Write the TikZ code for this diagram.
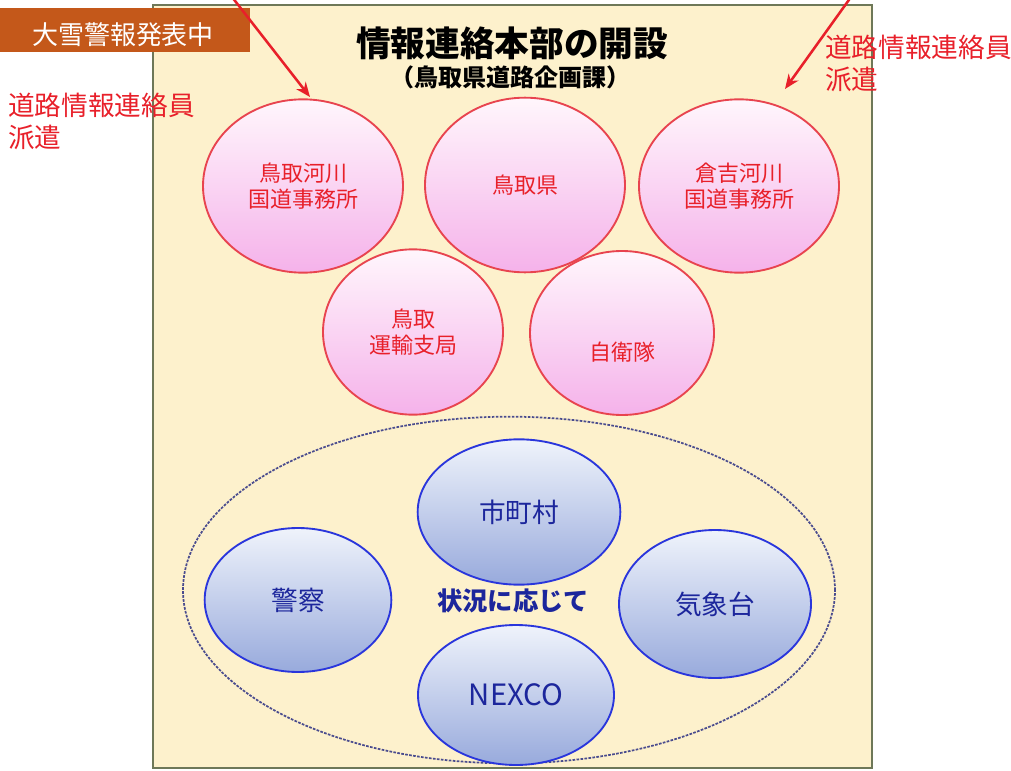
\documentclass[tikz,border=0pt]{standalone}
\usepackage{fontspec}
\setmainfont{Noto Sans CJK JP}
\usetikzlibrary{arrows.meta,shapes.geometric}

\definecolor{boxfill}{HTML}{FDF1CC}
\definecolor{boxline}{HTML}{6E7858}
\definecolor{warnfill}{HTML}{C4581A}
\definecolor{redtext}{HTML}{E8202A}
\definecolor{pinkline}{HTML}{E8444F}
\definecolor{pinktop}{HTML}{FFF6FC}
\definecolor{pinkbot}{HTML}{F5B2EA}
\definecolor{blueline}{HTML}{2A36DC}
\definecolor{bluetop}{HTML}{EFF3FB}
\definecolor{bluebot}{HTML}{98AADC}
\definecolor{bluetext}{HTML}{1C269C}
\definecolor{dashline}{HTML}{4A4C8E}

\begin{document}
\begin{tikzpicture}[x=0.75pt,y=-0.75pt,
    pinkcirc/.style = {ellipse,draw=pinkline,line width=1.4pt,top color=pinktop,bottom color=pinkbot,text=redtext,align=center,inner sep=0pt,font=\fontsize{16.5}{20}\selectfont},
    bluecirc/.style = {ellipse,draw=blueline,line width=1.4pt,top color=bluetop,bottom color=bluebot,text=bluetext,inner sep=0pt,font=\fontsize{20}{22}\selectfont},
    sendnote/.style = {text=redtext,align=left,inner sep=0pt,font=\fontsize{20}{24}\selectfont},
    sendarrow/.style = {-{Stealth[length=11pt,width=9pt]},draw=redtext,line width=1.9pt}]
\useasboundingbox (0,0) rectangle (1011,771);

% headquarters box
\draw[fill=boxfill,draw=boxline,line width=1pt] (153,5) rectangle (872,768);
\fill[warnfill] (0,8) rectangle (250,52);
\node[text=white,inner sep=0pt,anchor=base,font=\fontsize{19.5}{20}\selectfont] (warn) at (123,45) {大雪警報発表中};
\node[inner sep=0pt,anchor=base,font=\fontsize{26}{28}\selectfont\bfseries] (title) at (512,56) {情報連絡本部の開設};
\node[inner sep=0pt,anchor=base,font=\fontsize{18}{20}\selectfont\bfseries] (subtitle) at (510,86) {（鳥取県道路企画課）};

% liaison staff
\node[sendnote,anchor=base west] (lnote) at (8,147) {道路情報連絡員\\派遣};
\node[sendnote,anchor=base west] (rnote) at (825,89) {道路情報連絡員\\派遣};

% member organisations
\node[pinkcirc,minimum width=150pt,minimum height=130pt] (tottorigawa) at (303,186) {鳥取河川\\国道事務所};
\node[pinkcirc,minimum width=150pt,minimum height=131pt] (tottoriken) at (525,185) {鳥取県};
\node[pinkcirc,minimum width=150pt,minimum height=130pt] (kurayoshi) at (739,186) {倉吉河川\\国道事務所};
\node[pinkcirc,minimum width=135pt,minimum height=124pt] (unyu) at (413,332) {鳥取\\運輸支局};
\node[pinkcirc,minimum width=138pt,minimum height=123pt] (jieitai) at (622,333) {\raisebox{-42pt}{自衛隊}};

\coordinate (lfrom) at (232,-3);
\coordinate (lto) at (310,97);
\coordinate (rfrom) at (851,-3);
\coordinate (rto) at (785,89);
\draw[sendarrow] (lfrom) -- (lto);
\draw[sendarrow] (rfrom) -- (rto);

% as needed
\node[ellipse,draw=dashline,line width=1.3pt,dash pattern=on 2pt off 1pt,minimum width=489pt,minimum height=260pt] (asneeded) at (509,590) {};
\node[bluecirc,minimum width=152pt,minimum height=109pt] (shichoson) at (519,512) {市町村};
\node[bluecirc,minimum width=140pt,minimum height=108pt] (keisatsu) at (298,600) {警察};
\node[bluecirc,minimum width=144pt,minimum height=111pt] (kishodai) at (715,604) {気象台};
\node[bluecirc,minimum width=147pt,minimum height=105pt,font=\fontsize{22}{24}\selectfont] (nexco) at (516,695) {NEXCO};
\node[text=bluetext,inner sep=0pt,font=\fontsize{19}{20}\selectfont\bfseries] (jokyo) at (513,601) {状況に応じて};
\end{tikzpicture}
\end{document}
